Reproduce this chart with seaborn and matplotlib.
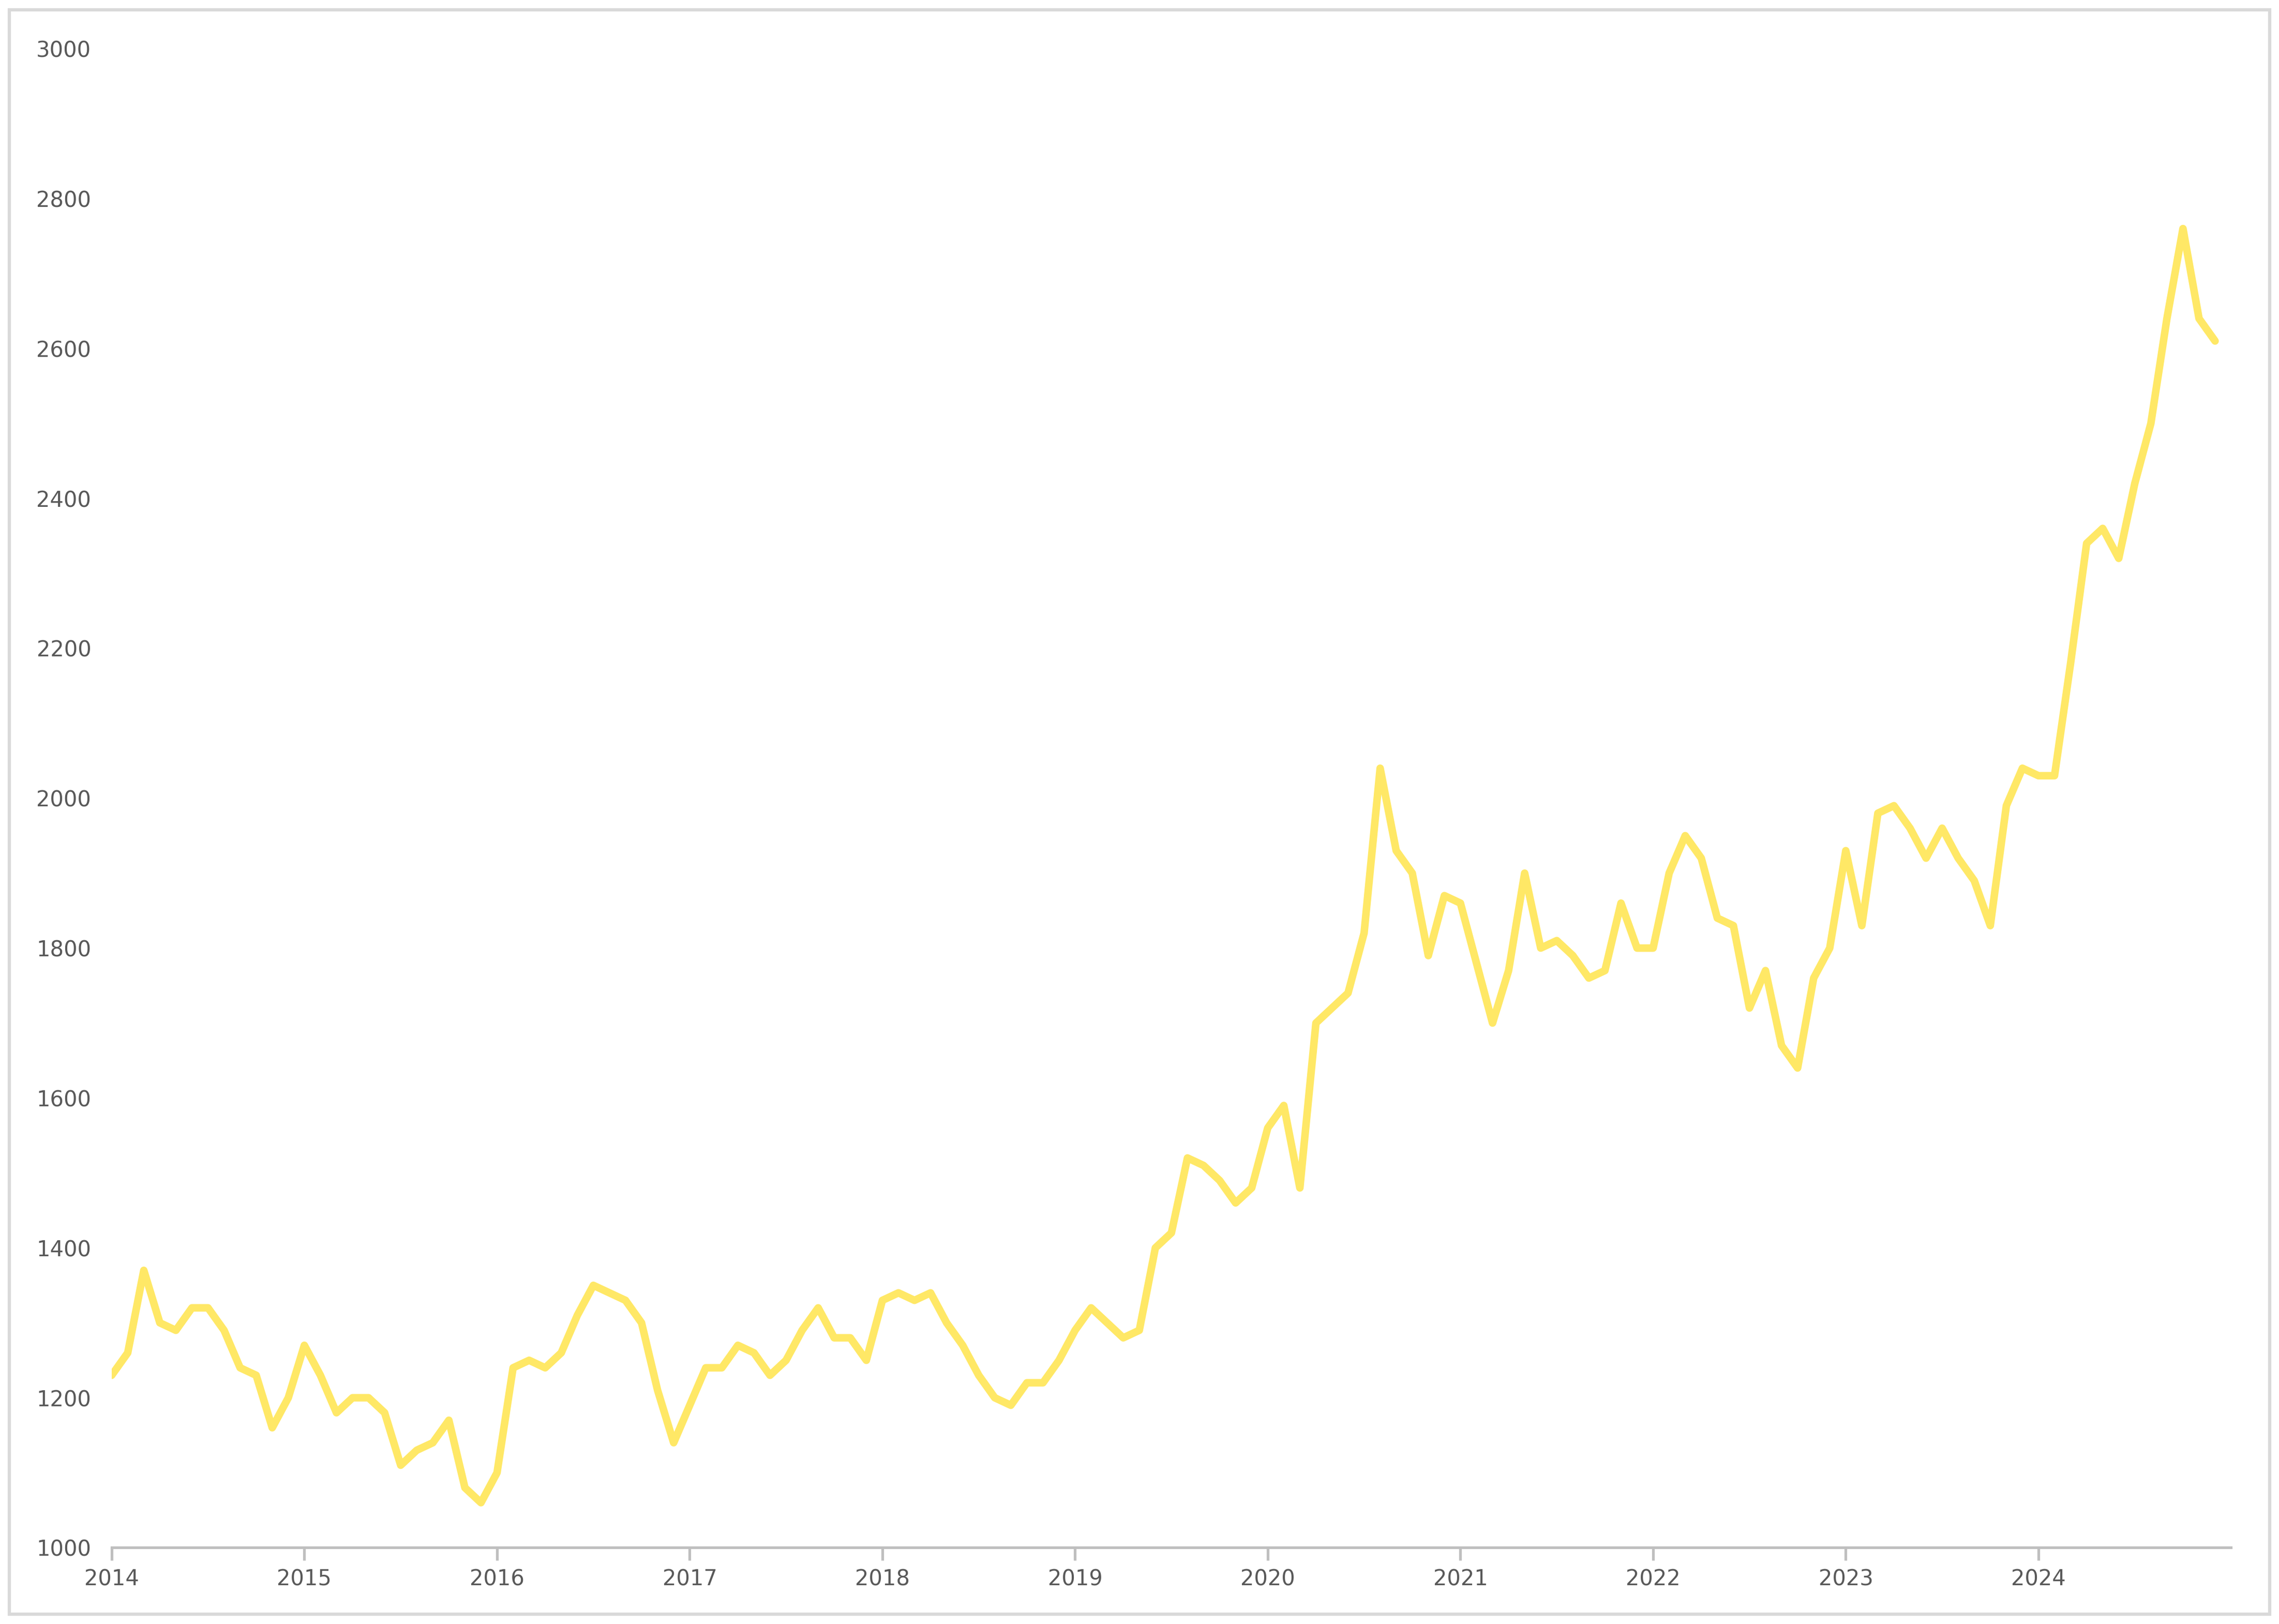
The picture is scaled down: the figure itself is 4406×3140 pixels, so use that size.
import pandas as pd
import numpy as np
import matplotlib.pyplot as plt
import seaborn as sns
from matplotlib.patches import Rectangle

# monthly prices (2014-01 .. 2024-12)
years = list(range(2014, 2025))
prices = [
    1230, 1260, 1370, 1300, 1290, 1320, 1320, 1290, 1240, 1230, 1160, 1200,
    1270, 1230, 1180, 1200, 1200, 1180, 1110, 1130, 1140, 1170, 1080, 1060,
    1100, 1240, 1250, 1240, 1260, 1310, 1350, 1340, 1330, 1300, 1210, 1140,
    1190, 1240, 1240, 1270, 1260, 1230, 1250, 1290, 1320, 1280, 1280, 1250,
    1330, 1340, 1330, 1340, 1300, 1270, 1230, 1200, 1190, 1220, 1220, 1250,
    1290, 1320, 1300, 1280, 1290, 1400, 1420, 1520, 1510, 1490, 1460, 1480,
    1560, 1590, 1480, 1700, 1720, 1740, 1820, 2040, 1930, 1900, 1790, 1870,
    1860, 1780, 1700, 1770, 1900, 1800, 1810, 1790, 1760, 1770, 1860, 1800,
    1800, 1900, 1950, 1920, 1840, 1830, 1720, 1770, 1670, 1640, 1760, 1800,
    1930, 1830, 1980, 1990, 1960, 1920, 1960, 1920, 1890, 1830, 1990, 2040,
    2030, 2030, 2180, 2340, 2360, 2320, 2420, 2500, 2640, 2760, 2640, 2610,
]
y_ticks = list(range(1000, 3001, 200))

df = pd.DataFrame({
    "t": [y + m / 12 for y in years for m in range(12)],
    "price": prices,
})

sns.set_theme(style="white")
fig, ax = plt.subplots(figsize=(4406 / 300, 3140 / 300), dpi=300)
fig.subplots_adjust(left=0.049, right=0.979, top=0.970, bottom=0.047)
fig.patches.append(Rectangle((0.004, 0.006), 0.992, 0.988, transform=fig.transFigure,
                             fill=False, edgecolor="#d9d9d9", linewidth=1.5))

sns.lineplot(data=df, x="t", y="price", ax=ax, color="#FFE866", linewidth=3.5)

ax.set_xlim(2014, 2025)
ax.set_ylim(1000, 3000)
ax.set_yticks(y_ticks)
ax.set_xticks(years)
ax.set_xticklabels([str(y) for y in years])
ax.set_xlabel("")
ax.set_ylabel("")
for s in ["top", "right", "left"]:
    ax.spines[s].set_visible(False)
ax.spines["bottom"].set_color("#bfbfbf")
ax.tick_params(axis="x", bottom=True, length=6, color="#bfbfbf", labelsize=10, labelcolor="#595959")
ax.tick_params(axis="y", left=False, labelsize=10, labelcolor="#595959")

plt.savefig("out.png", dpi=300)
